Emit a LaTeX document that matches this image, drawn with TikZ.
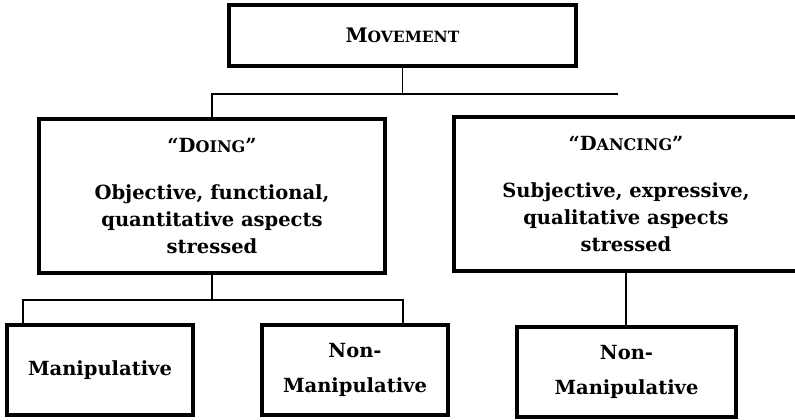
\documentclass[tikz,border=0pt]{standalone}
\usepackage{fontspec}
\setmainfont{DejaVu Serif}
\usetikzlibrary{positioning}

\newcommand{\smcap}[1]{{\fontsize{16pt}{18pt}\selectfont #1}}

\begin{document}
\begin{tikzpicture}[x=1pt,y=-1pt,
    box/.style={draw,line width=4pt,inner sep=0pt,align=center,
        font=\bfseries\fontsize{19.5pt}{27pt}\selectfont},
    leaf/.style={box,minimum width=186pt,minimum height=90pt},
    link/.style={line width=1.2pt}]
            \useasboundingbox (0,0) rectangle (795,420);
            % top level
            \node[box,minimum width=347pt,minimum height=61pt,
                font=\bfseries\fontsize{20pt}{24pt}\selectfont] (move) at (402.5,35.5)
                {M{\fontsize{15.5pt}{18pt}\selectfont OVEMENT}};
            % middle level
            \node[box,minimum width=346pt,minimum height=154pt] (doing) at (212,196)
                {``D\smcap{OING}''\\[20pt]Objective, functional,\\quantitative aspects\\stressed};
            \node[box,minimum width=344pt,minimum height=154pt] (dancing) at (626,194)
                {``D\smcap{ANCING}''\\[20pt]Subjective, expressive,\\qualitative aspects\\stressed};
            % bottom level
            \node[leaf] (manip) at (100,370) {Manipulative};
            \node[leaf] (nonmanip) at (355,370) {Non-\\[8pt]Manipulative};
            \node[leaf,minimum width=219pt] (nonmanipb) at (626.5,371.5) {Non-\\[8pt]Manipulative};
            % connectors
            \coordinate (topend) at (618,94);
            \coordinate (lowleft) at (23,300);
            \coordinate (lowright) at (403,300);
            \draw[link] (move.south) -- (move.south |- topend);
            \draw[link] (doing.north) |- (topend);
            \draw[link] (doing.south) -- (doing.south |- lowleft);
            \draw[link] (manip.north -| lowleft) -- (lowleft) -- (lowright)
                -- (nonmanip.north -| lowright);
            \draw[link] (dancing.south) -- (dancing.south |- nonmanipb.north);
\end{tikzpicture}
\end{document}
